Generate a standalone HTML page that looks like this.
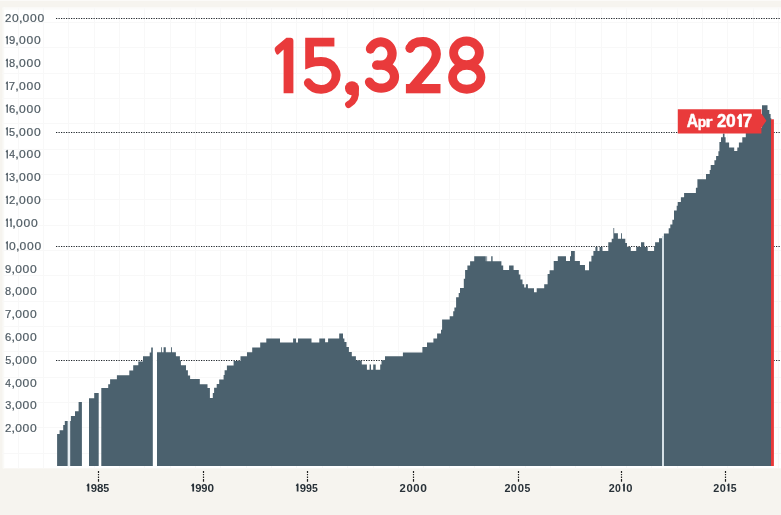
<!DOCTYPE html>
<html><head><meta charset="utf-8"><style>
html,body{margin:0;padding:0}
body{width:781px;height:515px;background:#f6f4ef;overflow:hidden}
svg{display:block;font-family:"Liberation Sans",sans-serif;will-change:transform}
</style></head><body>
<svg width="781" height="515" viewBox="0 0 781 515">
<rect x="0" y="0" width="781" height="1" fill="#fbfaf8"/>
<rect x="2.8" y="7.6" width="778.2" height="460.7" fill="#fff"/>
<rect x="2.8" y="7.6" width="778.2" height="2" fill="#fbfbf9"/>
<rect x="2.8" y="7.6" width="1.5" height="460.7" fill="#fafaf7"/>
<path d="M18.5 7.6V468.3M43.5 7.6V468.3M68.5 7.6V468.3M94.5 7.6V468.3M119.5 7.6V468.3M144.5 7.6V468.3M170.5 7.6V468.3M195.5 7.6V468.3M220.5 7.6V468.3M246.5 7.6V468.3M271.5 7.6V468.3M296.5 7.6V468.3M322.5 7.6V468.3M347.5 7.6V468.3M373.5 7.6V468.3M398.5 7.6V468.3M423.5 7.6V468.3M449.5 7.6V468.3M474.5 7.6V468.3M499.5 7.6V468.3M525.5 7.6V468.3M550.5 7.6V468.3M575.5 7.6V468.3M601.5 7.6V468.3M626.5 7.6V468.3M651.5 7.6V468.3M677.5 7.6V468.3M702.5 7.6V468.3M727.5 7.6V468.3M753.5 7.6V468.3M778.5 7.6V468.3M2.8 22.5H781M2.8 47.5H781M2.8 73.5H781M2.8 98.5H781M2.8 123.5H781M2.8 149.5H781M2.8 174.5H781M2.8 199.5H781M2.8 225.5H781M2.8 250.5H781M2.8 275.5H781M2.8 301.5H781M2.8 326.5H781M2.8 351.5H781M2.8 377.5H781M2.8 402.5H781M2.8 427.5H781M2.8 453.5H781" stroke="#f8f8f8" stroke-width="1" fill="none"/>
<path d="M56 18.5H781M56 132.5H781M56 246.5H781M56 360.5H781" stroke="#20272d" stroke-width="1.1" stroke-dasharray="1.25 1.25" fill="none"/>
<path d="M57.1 466V433.9H59.6V430.2H63.2V425H64.8V421H67.8V466ZM70.1 466V421H70.9V416.1H75V411.2H78.6V402.1H81.9V466ZM89 466V398.2H94.2V393.1H98.7V466ZM101.3 466V388H108.2V384.2H110.1V379.3H116.9V375.3H129.3V370.5H133.2V365.3H138.3V361.5H143V356.3H149.7V352.6H151.2V347.6H152.9V466ZM156.9 466V352.3H161V347.2H161.8V352.3H163.6V347.2H165.8V352.3H171V347.2H171.9V352.3H175.9V356.2H179.9V360.2H180.9V365.3H186V370.3H187.9V375.4H190.1V379.1H199.8V384.2H207.5V388H209.9V397.9H212.8V393H214.1V387.8H216.7V384H219.2V379.4H223.6V375H224.6V370.3H226.9V365.4H233.6V361H240.5V356.3H247V352.2H252.2V347.5H260.2V342.5H266.3V338.6H280V342.5H293.1V338.6H296V342.5H298V338.6H311.5V342.5H319.3V338.6H325.1V342.2H328.1V338.6H339.2V333.4H343V338.6H344.4V341.9H346.5V347.1H348.9V352H351.8V356.2H355.9V360.4H361.8V364.5H366.9V369.8H369.6V364.5H371V369.8H373.2V364.5H375.7V369.8H380.2V364.5H381.5V360.3H385V356.3H402.9V352.6H422.4V347.1H427V342.5H433.4V338.4H437.1V333.5H441V329.7H442.1V319.6H449.7V316.3H453.2V311.3H454.4V307.5H456.1V297.2H458.7V293.1H460V288H463.8V278.8H465.1V270.1H467.4V265.4H470.1V261.3H474.2V256.3H485.8V261.3H486.4V256.3H487.1V261.3H491.2V256.3H492.6V261.3H501.4V265.4H503.2V270.1H509.1V265.4H513.6V270.1H518.8V274.6H520.4V279.4H522.5V284.2H524.2V287.6H525.9V284.2H527.9V288.2H534V292.3H536.7V288.2H544.2V284.2H547.6V274H549.6V270.2H553.7V261H557.8V256.3H566V261H570V256.3H571V251.1H574.8V261H579.9V265.1H585V270.2H589V261.5H591.4V255.8H593.4V251H595.4V246.9H597.5V251H599.5V246.9H602.5V251H608.3V242.2H611.7V238.8H613.4V227.9H614.2V233.3H617.9V238.8H621V233.3H621.9V238.8H625.3V242.9H627V246.9H630.8V251H636.2V246.9H641V242.2H644.3V246.9H647.7V251H654.1V246.3H655.1V242.2H659V238.3H662V466ZM663.9 466V233.5H668.7V228.2H670.3V224.5H672.4V219.7H674V210.6H676.7V205.8H677.7V202.1H680.9V197.3H684.1V193H695.9V187.7H697.4V179.2H706V173.9H709.7V170H710.7V165.1H714.4V160.2H716.1V156.1H718.4V151.3H719.4V142H721V137.2H722.9V133.6H724.5V137.2H725.6V142.4H729.1V147.4H734.2V150.9H737.3V147.4H738.9V142.4H742.3V137.3H745.8V128H762V105.2H767.5V110H769.3V114H770.6V118.3H771.3V466Z" fill="#4b616e"/>
<rect x="152.9" y="345" width="4" height="121" fill="#fff"/><rect x="662" y="236" width="2" height="230" fill="#d6e1e7"/><rect x="67.8" y="421" width="2.3" height="45" fill="#e6edf1"/>
<rect x="771" y="119.3" width="2.9" height="346.7" fill="#e93a3b"/>
<path d="M98.5 471V482M203.5 471V482M307.5 471V482M413.5 471V482M518.5 471V482M621.5 471V482M725.5 471V482" stroke="#222" stroke-width="1.2" stroke-dasharray="2 1 1.2 1.4 1.3 1.1 2.7 9" fill="none"/>
<text transform="translate(5.03 21.5) scale(0.9914 1.0200)" font-size="11.5" font-weight="normal" fill="#505c64" stroke="#505c64" stroke-width="0.2">2</text><text transform="translate(11.99 21.5) scale(1.0517 1.0200)" font-size="11.5" font-weight="normal" fill="#505c64" stroke="#505c64" stroke-width="0.2">0</text><text transform="translate(18.67 21.5) scale(1.2393 1.0200)" font-size="11.5" font-weight="normal" fill="#505c64" stroke="#505c64" stroke-width="0.2">,</text><text transform="translate(22.59 21.5) scale(1.0517 1.0200)" font-size="11.5" font-weight="normal" fill="#505c64" stroke="#505c64" stroke-width="0.2">0</text><text transform="translate(30.04 21.5) scale(1.0517 1.0200)" font-size="11.5" font-weight="normal" fill="#505c64" stroke="#505c64" stroke-width="0.2">0</text><text transform="translate(37.49 21.5) scale(1.0517 1.0200)" font-size="11.5" font-weight="normal" fill="#505c64" stroke="#505c64" stroke-width="0.2">0</text><path d="M6.08 38L7.25 36.41V44.32" stroke="#505c64" stroke-width="1.3" fill="none" stroke-linejoin="round"/><text transform="translate(8.92 44.32) scale(0.9783 1.0200)" font-size="11.5" font-weight="normal" fill="#505c64" stroke="#505c64" stroke-width="0.2">9</text><text transform="translate(15.07 44.32) scale(1.2393 1.0200)" font-size="11.5" font-weight="normal" fill="#505c64" stroke="#505c64" stroke-width="0.2">,</text><text transform="translate(18.99 44.32) scale(1.0517 1.0200)" font-size="11.5" font-weight="normal" fill="#505c64" stroke="#505c64" stroke-width="0.2">0</text><text transform="translate(26.44 44.32) scale(1.0517 1.0200)" font-size="11.5" font-weight="normal" fill="#505c64" stroke="#505c64" stroke-width="0.2">0</text><text transform="translate(33.89 44.32) scale(1.0517 1.0200)" font-size="11.5" font-weight="normal" fill="#505c64" stroke="#505c64" stroke-width="0.2">0</text><path d="M6.08 60.82L7.25 59.23V67.14" stroke="#505c64" stroke-width="1.3" fill="none" stroke-linejoin="round"/><text transform="translate(8.97 67.14) scale(0.9636 1.0200)" font-size="11.5" font-weight="normal" fill="#505c64" stroke="#505c64" stroke-width="0.2">8</text><text transform="translate(15.07 67.14) scale(1.2393 1.0200)" font-size="11.5" font-weight="normal" fill="#505c64" stroke="#505c64" stroke-width="0.2">,</text><text transform="translate(18.99 67.14) scale(1.0517 1.0200)" font-size="11.5" font-weight="normal" fill="#505c64" stroke="#505c64" stroke-width="0.2">0</text><text transform="translate(26.44 67.14) scale(1.0517 1.0200)" font-size="11.5" font-weight="normal" fill="#505c64" stroke="#505c64" stroke-width="0.2">0</text><text transform="translate(33.89 67.14) scale(1.0517 1.0200)" font-size="11.5" font-weight="normal" fill="#505c64" stroke="#505c64" stroke-width="0.2">0</text><path d="M6.08 83.64L7.25 82.05V89.96" stroke="#505c64" stroke-width="1.3" fill="none" stroke-linejoin="round"/><text transform="translate(8.87 89.96) scale(0.9934 1.0200)" font-size="11.5" font-weight="normal" fill="#505c64" stroke="#505c64" stroke-width="0.2">7</text><text transform="translate(15.07 89.96) scale(1.2393 1.0200)" font-size="11.5" font-weight="normal" fill="#505c64" stroke="#505c64" stroke-width="0.2">,</text><text transform="translate(18.99 89.96) scale(1.0517 1.0200)" font-size="11.5" font-weight="normal" fill="#505c64" stroke="#505c64" stroke-width="0.2">0</text><text transform="translate(26.44 89.96) scale(1.0517 1.0200)" font-size="11.5" font-weight="normal" fill="#505c64" stroke="#505c64" stroke-width="0.2">0</text><text transform="translate(33.89 89.96) scale(1.0517 1.0200)" font-size="11.5" font-weight="normal" fill="#505c64" stroke="#505c64" stroke-width="0.2">0</text><path d="M6.08 106.46L7.25 104.87V112.78" stroke="#505c64" stroke-width="1.3" fill="none" stroke-linejoin="round"/><text transform="translate(8.88 112.78) scale(0.9793 1.0200)" font-size="11.5" font-weight="normal" fill="#505c64" stroke="#505c64" stroke-width="0.2">6</text><text transform="translate(15.07 112.78) scale(1.2393 1.0200)" font-size="11.5" font-weight="normal" fill="#505c64" stroke="#505c64" stroke-width="0.2">,</text><text transform="translate(18.99 112.78) scale(1.0517 1.0200)" font-size="11.5" font-weight="normal" fill="#505c64" stroke="#505c64" stroke-width="0.2">0</text><text transform="translate(26.44 112.78) scale(1.0517 1.0200)" font-size="11.5" font-weight="normal" fill="#505c64" stroke="#505c64" stroke-width="0.2">0</text><text transform="translate(33.89 112.78) scale(1.0517 1.0200)" font-size="11.5" font-weight="normal" fill="#505c64" stroke="#505c64" stroke-width="0.2">0</text><path d="M6.08 129.28L7.25 127.69V135.6" stroke="#505c64" stroke-width="1.3" fill="none" stroke-linejoin="round"/><text transform="translate(9.01 135.6) scale(0.9541 1.0200)" font-size="11.5" font-weight="normal" fill="#505c64" stroke="#505c64" stroke-width="0.2">5</text><text transform="translate(15.07 135.6) scale(1.2393 1.0200)" font-size="11.5" font-weight="normal" fill="#505c64" stroke="#505c64" stroke-width="0.2">,</text><text transform="translate(18.99 135.6) scale(1.0517 1.0200)" font-size="11.5" font-weight="normal" fill="#505c64" stroke="#505c64" stroke-width="0.2">0</text><text transform="translate(26.44 135.6) scale(1.0517 1.0200)" font-size="11.5" font-weight="normal" fill="#505c64" stroke="#505c64" stroke-width="0.2">0</text><text transform="translate(33.89 135.6) scale(1.0517 1.0200)" font-size="11.5" font-weight="normal" fill="#505c64" stroke="#505c64" stroke-width="0.2">0</text><path d="M6.08 152.1L7.25 150.51V158.42" stroke="#505c64" stroke-width="1.3" fill="none" stroke-linejoin="round"/><text transform="translate(9.21 158.42) scale(0.8997 1.0200)" font-size="11.5" font-weight="normal" fill="#505c64" stroke="#505c64" stroke-width="0.2">4</text><text transform="translate(15.07 158.42) scale(1.2393 1.0200)" font-size="11.5" font-weight="normal" fill="#505c64" stroke="#505c64" stroke-width="0.2">,</text><text transform="translate(18.99 158.42) scale(1.0517 1.0200)" font-size="11.5" font-weight="normal" fill="#505c64" stroke="#505c64" stroke-width="0.2">0</text><text transform="translate(26.44 158.42) scale(1.0517 1.0200)" font-size="11.5" font-weight="normal" fill="#505c64" stroke="#505c64" stroke-width="0.2">0</text><text transform="translate(33.89 158.42) scale(1.0517 1.0200)" font-size="11.5" font-weight="normal" fill="#505c64" stroke="#505c64" stroke-width="0.2">0</text><path d="M6.08 174.92L7.25 173.33V181.24" stroke="#505c64" stroke-width="1.3" fill="none" stroke-linejoin="round"/><text transform="translate(9.03 181.24) scale(0.9541 1.0200)" font-size="11.5" font-weight="normal" fill="#505c64" stroke="#505c64" stroke-width="0.2">3</text><text transform="translate(15.07 181.24) scale(1.2393 1.0200)" font-size="11.5" font-weight="normal" fill="#505c64" stroke="#505c64" stroke-width="0.2">,</text><text transform="translate(18.99 181.24) scale(1.0517 1.0200)" font-size="11.5" font-weight="normal" fill="#505c64" stroke="#505c64" stroke-width="0.2">0</text><text transform="translate(26.44 181.24) scale(1.0517 1.0200)" font-size="11.5" font-weight="normal" fill="#505c64" stroke="#505c64" stroke-width="0.2">0</text><text transform="translate(33.89 181.24) scale(1.0517 1.0200)" font-size="11.5" font-weight="normal" fill="#505c64" stroke="#505c64" stroke-width="0.2">0</text><path d="M6.08 197.74L7.25 196.15V204.06" stroke="#505c64" stroke-width="1.3" fill="none" stroke-linejoin="round"/><text transform="translate(8.88 204.06) scale(0.9914 1.0200)" font-size="11.5" font-weight="normal" fill="#505c64" stroke="#505c64" stroke-width="0.2">2</text><text transform="translate(15.07 204.06) scale(1.2393 1.0200)" font-size="11.5" font-weight="normal" fill="#505c64" stroke="#505c64" stroke-width="0.2">,</text><text transform="translate(18.99 204.06) scale(1.0517 1.0200)" font-size="11.5" font-weight="normal" fill="#505c64" stroke="#505c64" stroke-width="0.2">0</text><text transform="translate(26.44 204.06) scale(1.0517 1.0200)" font-size="11.5" font-weight="normal" fill="#505c64" stroke="#505c64" stroke-width="0.2">0</text><text transform="translate(33.89 204.06) scale(1.0517 1.0200)" font-size="11.5" font-weight="normal" fill="#505c64" stroke="#505c64" stroke-width="0.2">0</text><path d="M6.08 220.56L7.25 218.97V226.88" stroke="#505c64" stroke-width="1.3" fill="none" stroke-linejoin="round"/><path d="M9.94 220.56L11.1 218.97V226.88" stroke="#505c64" stroke-width="1.3" fill="none" stroke-linejoin="round"/><text transform="translate(12.07 226.88) scale(1.2393 1.0200)" font-size="11.5" font-weight="normal" fill="#505c64" stroke="#505c64" stroke-width="0.2">,</text><text transform="translate(15.99 226.88) scale(1.0517 1.0200)" font-size="11.5" font-weight="normal" fill="#505c64" stroke="#505c64" stroke-width="0.2">0</text><text transform="translate(23.44 226.88) scale(1.0517 1.0200)" font-size="11.5" font-weight="normal" fill="#505c64" stroke="#505c64" stroke-width="0.2">0</text><text transform="translate(30.89 226.88) scale(1.0517 1.0200)" font-size="11.5" font-weight="normal" fill="#505c64" stroke="#505c64" stroke-width="0.2">0</text><path d="M6.08 243.38L7.25 241.79V249.7" stroke="#505c64" stroke-width="1.3" fill="none" stroke-linejoin="round"/><text transform="translate(8.99 249.7) scale(1.0517 1.0200)" font-size="11.5" font-weight="normal" fill="#505c64" stroke="#505c64" stroke-width="0.2">0</text><text transform="translate(15.67 249.7) scale(1.2393 1.0200)" font-size="11.5" font-weight="normal" fill="#505c64" stroke="#505c64" stroke-width="0.2">,</text><text transform="translate(19.59 249.7) scale(1.0517 1.0200)" font-size="11.5" font-weight="normal" fill="#505c64" stroke="#505c64" stroke-width="0.2">0</text><text transform="translate(27.04 249.7) scale(1.0517 1.0200)" font-size="11.5" font-weight="normal" fill="#505c64" stroke="#505c64" stroke-width="0.2">0</text><text transform="translate(34.49 249.7) scale(1.0517 1.0200)" font-size="11.5" font-weight="normal" fill="#505c64" stroke="#505c64" stroke-width="0.2">0</text><text transform="translate(5.07 272.52) scale(0.9783 1.0200)" font-size="11.5" font-weight="normal" fill="#505c64" stroke="#505c64" stroke-width="0.2">9</text><text transform="translate(11.22 272.52) scale(1.2393 1.0200)" font-size="11.5" font-weight="normal" fill="#505c64" stroke="#505c64" stroke-width="0.2">,</text><text transform="translate(15.14 272.52) scale(1.0517 1.0200)" font-size="11.5" font-weight="normal" fill="#505c64" stroke="#505c64" stroke-width="0.2">0</text><text transform="translate(22.59 272.52) scale(1.0517 1.0200)" font-size="11.5" font-weight="normal" fill="#505c64" stroke="#505c64" stroke-width="0.2">0</text><text transform="translate(30.04 272.52) scale(1.0517 1.0200)" font-size="11.5" font-weight="normal" fill="#505c64" stroke="#505c64" stroke-width="0.2">0</text><text transform="translate(5.12 295.34) scale(0.9636 1.0200)" font-size="11.5" font-weight="normal" fill="#505c64" stroke="#505c64" stroke-width="0.2">8</text><text transform="translate(11.22 295.34) scale(1.2393 1.0200)" font-size="11.5" font-weight="normal" fill="#505c64" stroke="#505c64" stroke-width="0.2">,</text><text transform="translate(15.14 295.34) scale(1.0517 1.0200)" font-size="11.5" font-weight="normal" fill="#505c64" stroke="#505c64" stroke-width="0.2">0</text><text transform="translate(22.59 295.34) scale(1.0517 1.0200)" font-size="11.5" font-weight="normal" fill="#505c64" stroke="#505c64" stroke-width="0.2">0</text><text transform="translate(30.04 295.34) scale(1.0517 1.0200)" font-size="11.5" font-weight="normal" fill="#505c64" stroke="#505c64" stroke-width="0.2">0</text><text transform="translate(5.02 318.16) scale(0.9934 1.0200)" font-size="11.5" font-weight="normal" fill="#505c64" stroke="#505c64" stroke-width="0.2">7</text><text transform="translate(11.22 318.16) scale(1.2393 1.0200)" font-size="11.5" font-weight="normal" fill="#505c64" stroke="#505c64" stroke-width="0.2">,</text><text transform="translate(15.14 318.16) scale(1.0517 1.0200)" font-size="11.5" font-weight="normal" fill="#505c64" stroke="#505c64" stroke-width="0.2">0</text><text transform="translate(22.59 318.16) scale(1.0517 1.0200)" font-size="11.5" font-weight="normal" fill="#505c64" stroke="#505c64" stroke-width="0.2">0</text><text transform="translate(30.04 318.16) scale(1.0517 1.0200)" font-size="11.5" font-weight="normal" fill="#505c64" stroke="#505c64" stroke-width="0.2">0</text><text transform="translate(5.03 340.98) scale(0.9793 1.0200)" font-size="11.5" font-weight="normal" fill="#505c64" stroke="#505c64" stroke-width="0.2">6</text><text transform="translate(11.22 340.98) scale(1.2393 1.0200)" font-size="11.5" font-weight="normal" fill="#505c64" stroke="#505c64" stroke-width="0.2">,</text><text transform="translate(15.14 340.98) scale(1.0517 1.0200)" font-size="11.5" font-weight="normal" fill="#505c64" stroke="#505c64" stroke-width="0.2">0</text><text transform="translate(22.59 340.98) scale(1.0517 1.0200)" font-size="11.5" font-weight="normal" fill="#505c64" stroke="#505c64" stroke-width="0.2">0</text><text transform="translate(30.04 340.98) scale(1.0517 1.0200)" font-size="11.5" font-weight="normal" fill="#505c64" stroke="#505c64" stroke-width="0.2">0</text><text transform="translate(5.16 363.8) scale(0.9541 1.0200)" font-size="11.5" font-weight="normal" fill="#505c64" stroke="#505c64" stroke-width="0.2">5</text><text transform="translate(11.22 363.8) scale(1.2393 1.0200)" font-size="11.5" font-weight="normal" fill="#505c64" stroke="#505c64" stroke-width="0.2">,</text><text transform="translate(15.14 363.8) scale(1.0517 1.0200)" font-size="11.5" font-weight="normal" fill="#505c64" stroke="#505c64" stroke-width="0.2">0</text><text transform="translate(22.59 363.8) scale(1.0517 1.0200)" font-size="11.5" font-weight="normal" fill="#505c64" stroke="#505c64" stroke-width="0.2">0</text><text transform="translate(30.04 363.8) scale(1.0517 1.0200)" font-size="11.5" font-weight="normal" fill="#505c64" stroke="#505c64" stroke-width="0.2">0</text><text transform="translate(5.36 386.62) scale(0.8997 1.0200)" font-size="11.5" font-weight="normal" fill="#505c64" stroke="#505c64" stroke-width="0.2">4</text><text transform="translate(11.22 386.62) scale(1.2393 1.0200)" font-size="11.5" font-weight="normal" fill="#505c64" stroke="#505c64" stroke-width="0.2">,</text><text transform="translate(15.14 386.62) scale(1.0517 1.0200)" font-size="11.5" font-weight="normal" fill="#505c64" stroke="#505c64" stroke-width="0.2">0</text><text transform="translate(22.59 386.62) scale(1.0517 1.0200)" font-size="11.5" font-weight="normal" fill="#505c64" stroke="#505c64" stroke-width="0.2">0</text><text transform="translate(30.04 386.62) scale(1.0517 1.0200)" font-size="11.5" font-weight="normal" fill="#505c64" stroke="#505c64" stroke-width="0.2">0</text><text transform="translate(5.18 409.44) scale(0.9541 1.0200)" font-size="11.5" font-weight="normal" fill="#505c64" stroke="#505c64" stroke-width="0.2">3</text><text transform="translate(11.22 409.44) scale(1.2393 1.0200)" font-size="11.5" font-weight="normal" fill="#505c64" stroke="#505c64" stroke-width="0.2">,</text><text transform="translate(15.14 409.44) scale(1.0517 1.0200)" font-size="11.5" font-weight="normal" fill="#505c64" stroke="#505c64" stroke-width="0.2">0</text><text transform="translate(22.59 409.44) scale(1.0517 1.0200)" font-size="11.5" font-weight="normal" fill="#505c64" stroke="#505c64" stroke-width="0.2">0</text><text transform="translate(30.04 409.44) scale(1.0517 1.0200)" font-size="11.5" font-weight="normal" fill="#505c64" stroke="#505c64" stroke-width="0.2">0</text><text transform="translate(5.03 432.26) scale(0.9914 1.0200)" font-size="11.5" font-weight="normal" fill="#505c64" stroke="#505c64" stroke-width="0.2">2</text><text transform="translate(11.22 432.26) scale(1.2393 1.0200)" font-size="11.5" font-weight="normal" fill="#505c64" stroke="#505c64" stroke-width="0.2">,</text><text transform="translate(15.14 432.26) scale(1.0517 1.0200)" font-size="11.5" font-weight="normal" fill="#505c64" stroke="#505c64" stroke-width="0.2">0</text><text transform="translate(22.59 432.26) scale(1.0517 1.0200)" font-size="11.5" font-weight="normal" fill="#505c64" stroke="#505c64" stroke-width="0.2">0</text><text transform="translate(30.04 432.26) scale(1.0517 1.0200)" font-size="11.5" font-weight="normal" fill="#505c64" stroke="#505c64" stroke-width="0.2">0</text>
<path d="M87.19 486.19L88.42 484.32V491.6" stroke="#283138" stroke-width="1.75" fill="none" stroke-linejoin="round"/><text transform="translate(90.81 491.6) scale(1.0230 1.0000)" font-size="11.1" font-weight="bold" fill="#283138">9</text><text transform="translate(96.93 491.6) scale(1.0402 1.0000)" font-size="11.1" font-weight="bold" fill="#283138">8</text><text transform="translate(103.27 491.6) scale(0.9596 1.0000)" font-size="11.1" font-weight="bold" fill="#283138">5</text><path d="M191.79 486.36L193.22 484.32V491.6" stroke="#283138" stroke-width="1.75" fill="none" stroke-linejoin="round"/><text transform="translate(195.21 491.6) scale(1.0044 1.0000)" font-size="11.1" font-weight="bold" fill="#283138">9</text><text transform="translate(201.31 491.6) scale(1.0044 1.0000)" font-size="11.1" font-weight="bold" fill="#283138">9</text><text transform="translate(207.53 491.6) scale(1.0608 1.0000)" font-size="11.1" font-weight="bold" fill="#283138">0</text><path d="M296.49 486.11L297.62 484.32V491.6" stroke="#283138" stroke-width="1.75" fill="none" stroke-linejoin="round"/><text transform="translate(299.81 491.6) scale(1.0230 1.0000)" font-size="11.1" font-weight="bold" fill="#283138">9</text><text transform="translate(305.93 491.6) scale(0.9672 1.0000)" font-size="11.1" font-weight="bold" fill="#283138">9</text><text transform="translate(311.88 491.6) scale(0.9415 1.0000)" font-size="11.1" font-weight="bold" fill="#283138">5</text><text transform="translate(399.61 491.6) scale(1.0105 1.0000)" font-size="11.1" font-weight="bold" fill="#283138">2</text><text transform="translate(406.55 491.6) scale(1.0229 1.0000)" font-size="11.1" font-weight="bold" fill="#283138">0</text><text transform="translate(413.25 491.6) scale(1.0229 1.0000)" font-size="11.1" font-weight="bold" fill="#283138">0</text><text transform="translate(420.13 491.6) scale(1.0797 1.0000)" font-size="11.1" font-weight="bold" fill="#283138">0</text><text transform="translate(504.43 491.6) scale(0.9730 1.0000)" font-size="11.1" font-weight="bold" fill="#283138">2</text><text transform="translate(510.87 491.6) scale(0.9850 1.0000)" font-size="11.1" font-weight="bold" fill="#283138">0</text><text transform="translate(517.65 491.6) scale(1.0229 1.0000)" font-size="11.1" font-weight="bold" fill="#283138">0</text><text transform="translate(524.48 491.6) scale(0.9415 1.0000)" font-size="11.1" font-weight="bold" fill="#283138">5</text><text transform="translate(608.63 491.6) scale(0.9730 1.0000)" font-size="11.1" font-weight="bold" fill="#283138">2</text><text transform="translate(615.08 491.6) scale(0.9471 1.0000)" font-size="11.1" font-weight="bold" fill="#283138">0</text><path d="M623.29 485.78L624.02 484.32V491.6" stroke="#283138" stroke-width="1.75" fill="none" stroke-linejoin="round"/><text transform="translate(626.16 491.6) scale(1.0040 1.0000)" font-size="11.1" font-weight="bold" fill="#283138">0</text><text transform="translate(713.33 491.6) scale(0.9730 1.0000)" font-size="11.1" font-weight="bold" fill="#283138">2</text><text transform="translate(719.77 491.6) scale(0.9850 1.0000)" font-size="11.1" font-weight="bold" fill="#283138">0</text><path d="M727.69 485.95L728.62 484.32V491.6" stroke="#283138" stroke-width="1.75" fill="none" stroke-linejoin="round"/><text transform="translate(730.78 491.6) scale(0.9415 1.0000)" font-size="11.1" font-weight="bold" fill="#283138">5</text>
<polygon points="677.8,109.2 761.4,109.2 761.4,113.4 766.4,120.7 761.4,128 761.4,133.6 677.8,133.6" fill="#e93a3b"/>
<text transform="translate(686.83 126.7) scale(0.8640 1.0000)" font-size="18.2" font-weight="bold" fill="#fff" stroke="#fff" stroke-width="0.5">A</text><text transform="translate(697.79 127.2) scale(0.7629 0.8500)" font-size="18.2" font-weight="bold" fill="#fff" stroke="#fff" stroke-width="0.5">p</text><text transform="translate(705.48 126.7) scale(0.9908 0.7753)" font-size="18.2" font-weight="bold" fill="#fff" stroke="#fff" stroke-width="0.5">r</text><text transform="translate(716.97 126.9) scale(0.9147 1.0000)" font-size="18.2" font-weight="bold" fill="#fff" stroke="#fff" stroke-width="0.5">2</text><text transform="translate(726.06 126.9) scale(0.9579 1.0000)" font-size="18.2" font-weight="bold" fill="#fff" stroke="#fff" stroke-width="0.5">0</text><path d="M737.89 118.86L740.35 115.33V126.9" stroke="#fff" stroke-width="3.1" fill="none" stroke-linejoin="round"/><text transform="translate(742.4 126.9) scale(0.9591 1.0000)" font-size="18.2" font-weight="bold" fill="#fff" stroke="#fff" stroke-width="0.5">7</text>
<path d="M283.6 93.3H293.4V40.8Q293.4 37.8 290.4 37.8H286.4L275.7 46.8Q274.1 48.3 274.8 50.4L275.8 53.1Q276.9 55.6 278.8 54.1L283.6 49.6Z" fill="#e93a3b"/><g fill="none" stroke="#e93a3b" stroke-width="10"><path d="M334.4 42.1H309.6V63.2C313.5 61.8 317 61.5 321 61.5A15 13.9 0 1 1 308.28 82.77" stroke-linejoin="miter" stroke-width="8.8"/><path d="M370.4 49.07A11.3 11.6 0 1 1 380.8 65.2H376.6M380.8 65.2H381.5A13.3 11.5 0 1 1 369.45 82.06" stroke-linejoin="round" stroke-width="9.2"/><path d="M410 48.3C411.6 44 416.5 41.7 423 41.7C430.5 41.7 436.3 47 436.3 54C436.3 59 433.8 62.6 430.3 66.5L412.5 87.5" stroke-linejoin="round" stroke-width="9.2"/><g stroke-width="8.8"><ellipse cx="466.5" cy="52.8" rx="12.9" ry="11.8"/><ellipse cx="466.75" cy="77.3" rx="14.2" ry="11.95"/></g></g><rect x="405.9" y="84" width="34.6" height="9.3" fill="#e93a3b"/><circle cx="308.28" cy="82.77" r="4.4" fill="#e93a3b"/><circle cx="370.4" cy="49.07" r="4.6" fill="#e93a3b"/><circle cx="376.6" cy="65.2" r="4.6" fill="#e93a3b"/><circle cx="369.45" cy="82.06" r="4.6" fill="#e93a3b"/><circle cx="410" cy="48.3" r="4.6" fill="#e93a3b"/><circle cx="352" cy="88.3" r="7" fill="#e93a3b"/><path d="M355.4 90Q356.6 100 348.6 104.5" fill="none" stroke="#e93a3b" stroke-width="7" stroke-linecap="round"/>
</svg>
</body></html>
